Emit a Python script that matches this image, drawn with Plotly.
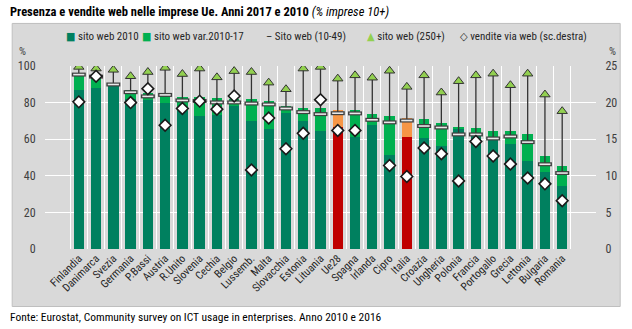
import plotly.graph_objects as go

# Web presence and web sales of EU enterprises (% of enterprises with 10+ employees)
countries = ["Finlandia", "Danimarca", "Svezia", "Germania", "P.Bassi", "Austria", "R.Unito",
             "Slovenia", "Cechia", "Belgio", "Lussemb.", "Malta", "Slovacchia", "Estonia",
             "Lituania", "Ue28", "Spagna", "Irlanda", "Cipro", "Italia", "Croazia", "Ungheria",
             "Polonia", "Francia", "Portogallo", "Grecia", "Lettonia", "Bulgaria", "Romania"]

web_2017 = [96.2, 94.9, 90.8, 86.8, 85.1, 85.1, 83.3, 82.8, 82.4, 82.1, 81.7, 81.0, 78.4, 77.3,
            77.3, 76.2, 76.2, 73.7, 72.6, 71.7, 70.8, 68.6, 66.4, 65.9, 64.4, 64.4, 62.6, 50.8, 45.3]
web_2010 = [86.9, 87.8, 89.2, 81.7, 81.3, 80.0, 75.5, 72.7, 73.3, 78.0, 70.0, 65.5, 74.1, 70.1,
            64.6, 66.4, 61.3, 67.7, 51.4, 61.0, 60.8, 56.4, 65.7, 63.2, 60.4, 57.4, 48.3, 42.3, 34.5]
web_small = [95.3, 94.2, 89.9, 85.7, 83.4, 84.2, 81.2, 80.9, 80.1, 80.1, 79.5, 79.0, 76.8, 74.8,
             73.7, 74.2, 74.1, 70.6, 69.2, 70.2, 67.2, 66.4, 62.6, 62.6, 60.4, 61.5, 58.4, 46.3, 41.5]
web_large = [99.5, 98.6, 97.9, 94.4, 96.7, 99.0, 95.6, 98.6, 93.8, 97.2, 96.7, 90.9, 87.3, 98.6,
             99.5, 93.1, 94.9, 93.6, 97.4, 88.6, 94.9, 85.5, 91.7, 94.9, 95.8, 89.5, 95.8, 84.4, 75.3]
web_sales = [20.1, 23.6, None, 20.0, 21.9, 16.9, 19.2, 20.2, 19.1, 20.9, 10.8, 17.9, 13.7, 15.8,
             20.4, 16.2, 16.2, None, 11.4, 9.9, 13.8, 13.0, 9.3, 14.7, 12.7, 11.6, 9.7, 8.9, 6.6]

highlight = ["Ue28", "Italia"]

DARK = "#00805F"
LIGHT = "#00B050"
RED = "#C00000"
ORANGE = "#F79646"
TRI = "#92D050"
PANEL = "#D9D9D9"
FONT = "Liberation Sans Narrow, Arial Narrow, Roboto Condensed, DejaVu Sans Condensed, sans-serif"

web_var = [a - b for a, b in zip(web_2017, web_2010)]
dark_cols = [RED if c in highlight else DARK for c in countries]
light_cols = [ORANGE if c in highlight else LIGHT for c in countries]

# vertical connectors between the 10-49 dash and the 250+ triangle
seg_x, seg_y = [], []
for c, lo, hi in zip(countries, web_small, web_large):
    seg_x += [c, c, None]
    seg_y += [lo, hi, None]

fig = go.Figure()
fig.add_bar(x=countries, y=web_2010, name="sito web 2010",
            marker=dict(color=dark_cols, line=dict(width=0)))
fig.add_bar(x=countries, y=web_var, name="sito web var.2010-17",
            marker=dict(color=light_cols, line=dict(width=0)))
fig.add_scatter(x=seg_x, y=seg_y, mode="lines", line=dict(color="#333333", width=1.3),
                hoverinfo="skip", showlegend=False)
fig.add_scatter(x=countries, y=web_small, mode="markers", showlegend=False,
                marker=dict(symbol="line-ew", size=10, line=dict(color="#404040", width=4)))
fig.add_scatter(x=countries, y=web_small, mode="markers", name="Sito web (10-49)",
                marker=dict(symbol="line-ew", size=8, line=dict(color="#E8E8E8", width=1.6)))
fig.add_scatter(x=countries, y=web_large, mode="markers", name="sito web (250+)",
                marker=dict(symbol="triangle-up", size=9, color=TRI,
                            line=dict(color="#333333", width=1)))
fig.add_scatter(x=countries, y=web_sales, mode="markers", name="vendite via web (sc.destra)",
                yaxis="y2",
                marker=dict(symbol="diamond", size=9, color="white",
                            line=dict(color="#1a1a1a", width=1.6)))

L, R, T, B = 44.8, 36.2, 65.7, 79.7
W, H = 632, 329
pw, ph = W - L - R, H - T - B


def px(x):
    return (x - L) / pw


def py(y):
    return (H - B - y) / ph


annotations = [
    dict(text="<b>Presenza e vendite web nelle imprese Ue. Anni 2017 e 2010</b> <i>(% imprese 10+)</i>",
         x=px(8), y=py(11), xanchor="left", yanchor="middle", font=dict(size=12.5, color="black")),
    dict(text="Fonte: Eurostat, Community survey on ICT usage in enterprises. Anno 2010 e 2016",
         x=px(8), y=py(318), xanchor="left", yanchor="middle", font=dict(size=11.5, color="black")),
    dict(text="%", x=px(22), y=py(51), xanchor="center", yanchor="middle",
         font=dict(size=11, color="#404040")),
    dict(text="%", x=px(612), y=py(51), xanchor="center", yanchor="middle",
         font=dict(size=11, color="#404040")),
]

legend_items = [
    (64, f'<span style="color:{DARK}">■</span> sito web 2010'),
    (140, f'<span style="color:{LIGHT}">■</span> sito web var.2010-17'),
    (264, '– Sito web (10-49)'),
    (365, f'<span style="color:{TRI}">▲</span> sito web (250+)'),
    (458, '◇ vendite via web (sc.destra)'),
]
for x0, txt in legend_items:
    annotations.append(dict(text=txt, x=px(x0), y=py(36), xanchor="left", yanchor="middle",
                            font=dict(size=11, color="#262626")))

for a in annotations:
    a.update(xref="paper", yref="paper", showarrow=False)

fig.update_layout(
    width=W, height=H,
    margin=dict(l=L, r=R, t=T, b=B, pad=0),
    barmode="stack", bargap=0.4,
    paper_bgcolor="white", plot_bgcolor=PANEL,
    font=dict(family=FONT, color="#404040"),
    showlegend=False,
    annotations=annotations,
    shapes=[dict(type="rect", xref="paper", yref="paper", layer="below",
                 x0=px(12), x1=px(620), y0=py(307), y1=py(23),
                 fillcolor=PANEL, line=dict(color="#BFBFBF", width=1))],
    xaxis=dict(type="category", tickson="boundaries", showgrid=True, gridcolor="white",
               gridwidth=1, ticks="", tickangle=-45, tickfont=dict(size=11, color="#262626"),
               showline=False, zeroline=False),
    yaxis=dict(range=[0, 100], tickvals=[0, 20, 40, 60, 80, 100], showgrid=True,
               gridcolor="white", gridwidth=1, zeroline=False, showline=False,
               ticks="outside", ticklen=6, tickcolor="rgba(0,0,0,0)",
               tickfont=dict(size=12, color="#404040")),
    yaxis2=dict(range=[0, 25], tickvals=[0, 5, 10, 15, 20, 25], overlaying="y", side="right",
                showgrid=False, zeroline=False, showline=False,
                ticks="outside", ticklen=6, tickcolor="rgba(0,0,0,0)",
                tickfont=dict(size=12, color="#404040")),
)

fig.write_html("out.html")
